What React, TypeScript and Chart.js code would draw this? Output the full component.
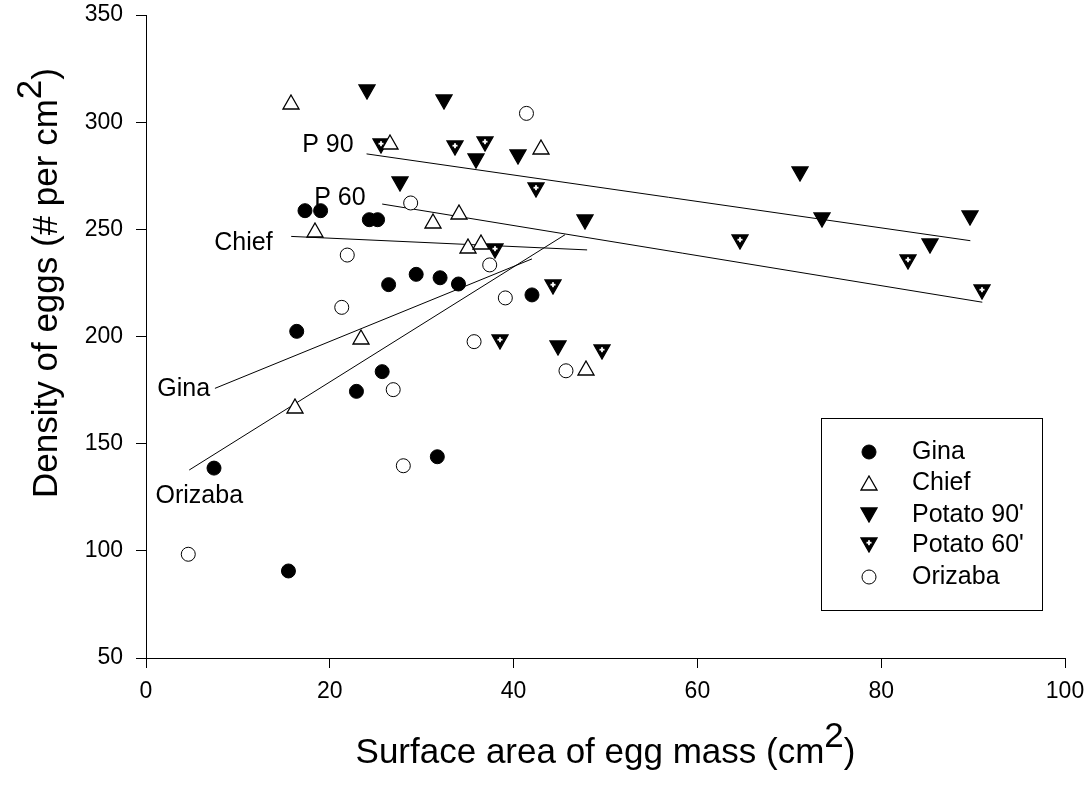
import React, { useEffect, useRef } from 'react';
import { Chart, registerables } from 'chart.js';

Chart.register(...registerables);

const FONT = '"Liberation Sans", Arial, Helvetica, sans-serif';

// ---- data (x: surface area cm2, y: density # per cm2) ----
const ginaX = [15.5, 7.4, 16.4, 22.9, 25.7, 31.7, 26.4, 17.3, 19.0, 24.3, 25.2, 29.4, 32.0, 34.0, 42.0];
const ginaY = [90.6, 138.6, 202.4, 174.4, 183.6, 143.9, 224.2, 258.7, 258.7, 254.5, 254.5, 229.0, 227.4, 224.5, 219.4];

const chiefX = [15.8, 26.5, 18.4, 31.2, 34.1, 43.0, 35.0, 36.4, 23.4, 16.2, 47.9];
const chiefY = [309.6, 290.6, 249.8, 254.0, 258.0, 288.3, 242.4, 244.2, 199.6, 167.7, 185.3];

const potato90X = [24.0, 32.4, 27.6, 35.9, 40.5, 47.8, 71.2, 73.6, 89.7, 85.3, 44.8];
const potato90Y = [314.2, 309.6, 271.2, 282.0, 283.6, 253.3, 275.8, 254.4, 255.3, 242.4, 194.6];

const potato60X = [25.6, 33.6, 36.9, 42.4, 38.0, 44.3, 38.5, 49.6, 64.6, 82.9, 91.0];
const potato60Y = [289.0, 287.8, 289.8, 268.4, 239.7, 223.0, 197.3, 192.6, 244.0, 234.6, 220.9];

const orizabaX = [41.4, 28.8, 21.9, 21.3, 37.4, 39.1, 35.7, 45.7, 26.9, 28.0, 4.6];
const orizabaY = [304.1, 262.3, 238.0, 213.6, 233.4, 218.0, 197.6, 184.0, 175.2, 139.7, 98.4];

// regression lines (start / end) and their labels
const fitNames = ['P 90', 'P 60', 'Chief', 'Gina', 'Orizaba'];
const fitX1 = [24.0, 25.7, 15.8, 7.5, 4.7];
const fitY1 = [285.2, 261.8, 246.7, 175.8, 137.7];
const fitX2 = [89.7, 91.0, 48.0, 42.0, 45.6];
const fitY2 = [244.7, 216.0, 240.4, 236.2, 247.5];
const labelX = [19.8, 21.1, 10.6, 4.1, 5.8];
const labelY = [289.3, 264.6, 243.4, 175.5, 125.6];

const legendNames = ['Gina', 'Chief', "Potato 90'", "Potato 60'", 'Orizaba'];

const xMin = 0, xMax = 100, xStep = 20;
const yMin = 50, yMax = 350, yStep = 50;

const xTitleMain = 'Surface area of egg mass (cm';
const yTitleMain = 'Density of eggs (# per cm';
const titleSup = '2';
const titleTail = ')';

const zip = (xs: number[], ys: number[]) => xs.map((x, i) => ({ x, y: ys[i] }));

function makeTriangle(down: boolean, filled: boolean, cross: boolean): HTMLCanvasElement {
  const c = document.createElement('canvas');
  c.width = 18;
  c.height = 16;
  const g = c.getContext('2d')!;
  g.beginPath();
  if (down) {
    g.moveTo(1, 1);
    g.lineTo(17, 1);
    g.lineTo(9, 15);
  } else {
    g.moveTo(9, 1);
    g.lineTo(17, 15);
    g.lineTo(1, 15);
  }
  g.closePath();
  g.fillStyle = filled ? '#000' : '#fff';
  g.fill();
  g.lineWidth = 1.3;
  g.strokeStyle = '#000';
  g.stroke();
  if (cross) {
    g.fillStyle = '#fff';
    g.fillRect(6.5, 4.8, 5, 1.8);
    g.fillRect(8.1, 3.2, 1.8, 5);
  }
  return c;
}

function drawSupText(ctx: CanvasRenderingContext2D, main: string, sup: string, tail: string, cx: number, baseline: number, size: number, raise: number) {
  ctx.font = `${size}px ${FONT}`;
  const wMain = ctx.measureText(main).width;
  const wSup = ctx.measureText(sup).width;
  const wTail = ctx.measureText(tail).width;
  const total = wMain + wSup + wTail;
  let x = cx - total / 2;
  ctx.textAlign = 'left';
  ctx.textBaseline = 'alphabetic';
  ctx.fillText(main, x, baseline);
  x += wMain;
  ctx.fillText(sup, x, baseline - raise);
  x += wSup;
  ctx.fillText(tail, x, baseline);
}

const zeroPad = (s: any) => {
  s.paddingTop = 0;
  s.paddingBottom = 0;
  s.paddingLeft = 0;
  s.paddingRight = 0;
};

export default function App() {
  const ref = useRef<HTMLCanvasElement | null>(null);

  useEffect(() => {
    const canvas = ref.current;
    if (!canvas) return;

    const upOpen = makeTriangle(false, false, false);
    const downFilled = makeTriangle(true, true, false);
    const downCross = makeTriangle(true, true, true);

    const markerStyles: any[] = [
      { kind: 'circle', fill: '#000' },
      { kind: 'img', img: upOpen },
      { kind: 'img', img: downFilled },
      { kind: 'img', img: downCross },
      { kind: 'circle', fill: '#fff' },
    ];

    const crisp = {
      id: 'crisp',
      beforeDatasetsDraw(chart: any) {
        chart.ctx.imageSmoothingEnabled = false;
      },
      afterDatasetsDraw(chart: any) {
        chart.ctx.imageSmoothingEnabled = true;
      },
    };

    const overlay = {
      id: 'overlay',
      afterDraw(chart: any) {
        const ctx: CanvasRenderingContext2D = chart.ctx;
        const xs = chart.scales.x;
        const ys = chart.scales.y;
        ctx.save();
        ctx.fillStyle = '#000';
        // regression labels
        ctx.font = `25px ${FONT}`;
        ctx.textAlign = 'center';
        ctx.textBaseline = 'middle';
        fitNames.forEach((n, i) => {
          ctx.fillText(n, xs.getPixelForValue(labelX[i]), ys.getPixelForValue(labelY[i]));
        });
        // axis titles
        drawSupText(ctx, xTitleMain, titleSup, titleTail, (chart.chartArea.left + chart.chartArea.right) / 2, 763, 35, 16);
        ctx.save();
        ctx.translate(57, 283);
        ctx.rotate(-Math.PI / 2);
        drawSupText(ctx, yTitleMain, titleSup, titleTail, 0, 0, 35, 16);
        ctx.restore();
        // legend
        const bx = 821.5, by = 418.5, bw = 221, bh = 192;
        ctx.lineWidth = 1;
        ctx.strokeStyle = '#000';
        ctx.strokeRect(bx, by, bw, bh);
        const rowY = [452, 483, 515, 545, 577];
        legendNames.forEach((n, i) => {
          const ms = markerStyles[i];
          const mx = 869, my = rowY[i];
          if (ms.kind === 'circle') {
            ctx.beginPath();
            ctx.arc(mx, my, 7, 0, Math.PI * 2);
            ctx.fillStyle = ms.fill;
            ctx.fill();
            ctx.strokeStyle = '#000';
            ctx.lineWidth = 1;
            ctx.stroke();
          } else {
            ctx.drawImage(ms.img, Math.round(mx - ms.img.width / 2), Math.round(my - ms.img.height / 2));
          }
          ctx.fillStyle = '#000';
          ctx.font = `25px ${FONT}`;
          ctx.textAlign = 'left';
          ctx.textBaseline = 'middle';
          ctx.fillText(n, 912, my);
        });
        ctx.restore();
      },
    };

    const lineSets = fitNames.map((n, i) => ({
      label: n + ' fit',
      data: [
        { x: fitX1[i], y: fitY1[i] },
        { x: fitX2[i], y: fitY2[i] },
      ],
      showLine: true,
      borderColor: '#000',
      borderWidth: 1,
      pointRadius: 0,
      fill: false,
    }));

    const pointSets = [
      { label: legendNames[0], data: zip(ginaX, ginaY), pointStyle: 'circle', pointRadius: 7, backgroundColor: '#000', borderColor: '#000', borderWidth: 1 },
      { label: legendNames[1], data: zip(chiefX, chiefY), pointStyle: upOpen, pointRadius: 8, backgroundColor: '#fff', borderColor: '#000', borderWidth: 1 },
      { label: legendNames[2], data: zip(potato90X, potato90Y), pointStyle: downFilled, pointRadius: 8, backgroundColor: '#000', borderColor: '#000', borderWidth: 1 },
      { label: legendNames[3], data: zip(potato60X, potato60Y), pointStyle: downCross, pointRadius: 8, backgroundColor: '#000', borderColor: '#000', borderWidth: 1 },
      { label: legendNames[4], data: zip(orizabaX, orizabaY), pointStyle: 'circle', pointRadius: 7, backgroundColor: '#fff', borderColor: '#000', borderWidth: 1 },
    ];

    const chart = new Chart(canvas, {
      type: 'scatter',
      data: { datasets: [...pointSets, ...lineSets] as any },
      options: {
        animation: false,
        responsive: false,
        maintainAspectRatio: false,
        events: [],
        layout: { padding: { left: 0, right: 25, top: 15, bottom: 0 } },
        plugins: { legend: { display: false }, tooltip: { enabled: false }, title: { display: false } },
        scales: {
          x: {
            type: 'linear',
            min: xMin,
            max: xMax,
            ticks: { stepSize: xStep, color: '#000', font: { family: FONT, size: 23 }, padding: 10, maxRotation: 0 },
            grid: { display: true, drawOnChartArea: false, drawTicks: true, tickLength: 10, color: '#000', lineWidth: 1 },
            border: { display: true, color: '#000', width: 1 },
            afterFit: (s: any) => { s.height = 130; zeroPad(s); },
          },
          y: {
            type: 'linear',
            min: yMin,
            max: yMax,
            ticks: { stepSize: yStep, color: '#000', font: { family: FONT, size: 23 }, padding: 13 },
            grid: { display: true, drawOnChartArea: false, drawTicks: true, tickLength: 10, color: '#000', lineWidth: 1 },
            border: { display: true, color: '#000', width: 1 },
            afterFit: (s: any) => { s.width = 146; zeroPad(s); },
          },
        },
      } as any,
      plugins: [crisp, overlay],
    });

    return () => chart.destroy();
  }, []);

  return (
    <div style={{ position: 'fixed', left: 0, top: 0, width: 1090, height: 788, background: '#fff' }}>
      <canvas ref={ref} width={1090} height={788} style={{ display: 'block', width: 1090, height: 788 }} />
    </div>
  );
}
